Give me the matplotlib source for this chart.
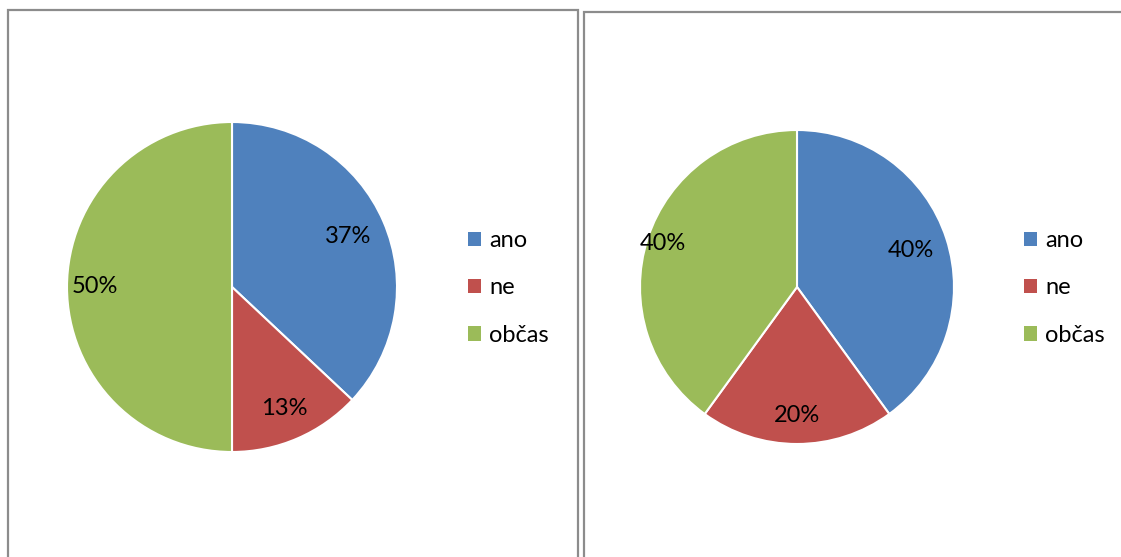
import numpy as np
import matplotlib.pyplot as plt
from matplotlib.patches import Rectangle, Patch

plt.rcParams["font.family"] = ["Lato", "DejaVu Sans"]

labels = ["ano", "ne", "občas"]
left_vals = [37, 13, 50]
right_vals = [40, 20, 40]
colors = ["#4F81BD", "#C0504D", "#9BBB59"]

W, H = 1121, 557
fig = plt.figure(figsize=(W / 100, H / 100), dpi=100)

# panel frames
fig.patches.append(Rectangle((8 / W, -0.1), 570 / W, (H - 10) / H + 0.1, transform=fig.transFigure,
                             fill=False, edgecolor="#8c8c8c", linewidth=1.6))
fig.patches.append(Rectangle((584 / W, -0.1), 0.6, (H - 12) / H + 0.1, transform=fig.transFigure,
                             fill=False, edgecolor="#8c8c8c", linewidth=1.6))


def draw_pie(vals, cx, cy, r, dists, legend_x):
    ax = fig.add_axes([(cx - r) / W, (H - cy - r) / H, 2 * r / W, 2 * r / H])
    wedges, _ = ax.pie(vals, colors=colors, startangle=90, counterclock=False,
                       wedgeprops=dict(edgecolor="white", linewidth=1.5))
    total = sum(vals)
    for w, v, d in zip(wedges, vals, dists):
        ang = np.deg2rad((w.theta1 + w.theta2) / 2)
        ax.text(d * np.cos(ang), d * np.sin(ang), f"{v / total * 100:.0f}%",
                ha="center", va="center", fontsize=17)
    ax.set_xlim(-1, 1)
    ax.set_ylim(-1, 1)
    ax.axis("off")
    handles = [Patch(facecolor=c, edgecolor="none") for c in colors]
    fig.legend(handles, labels, loc="center left", bbox_to_anchor=(legend_x / W, (H - 288) / H),
               frameon=False, fontsize=17, handlelength=0.55, handleheight=0.55,
               handletextpad=0.35, labelspacing=1.12, borderaxespad=0, borderpad=0)


draw_pie(left_vals, 232, 287, 165, [0.77, 0.8, 0.83], 468)
draw_pie(right_vals, 797, 287, 157, [0.76, 0.82, 0.9], 1024)

fig.savefig("out.png", dpi=100)
